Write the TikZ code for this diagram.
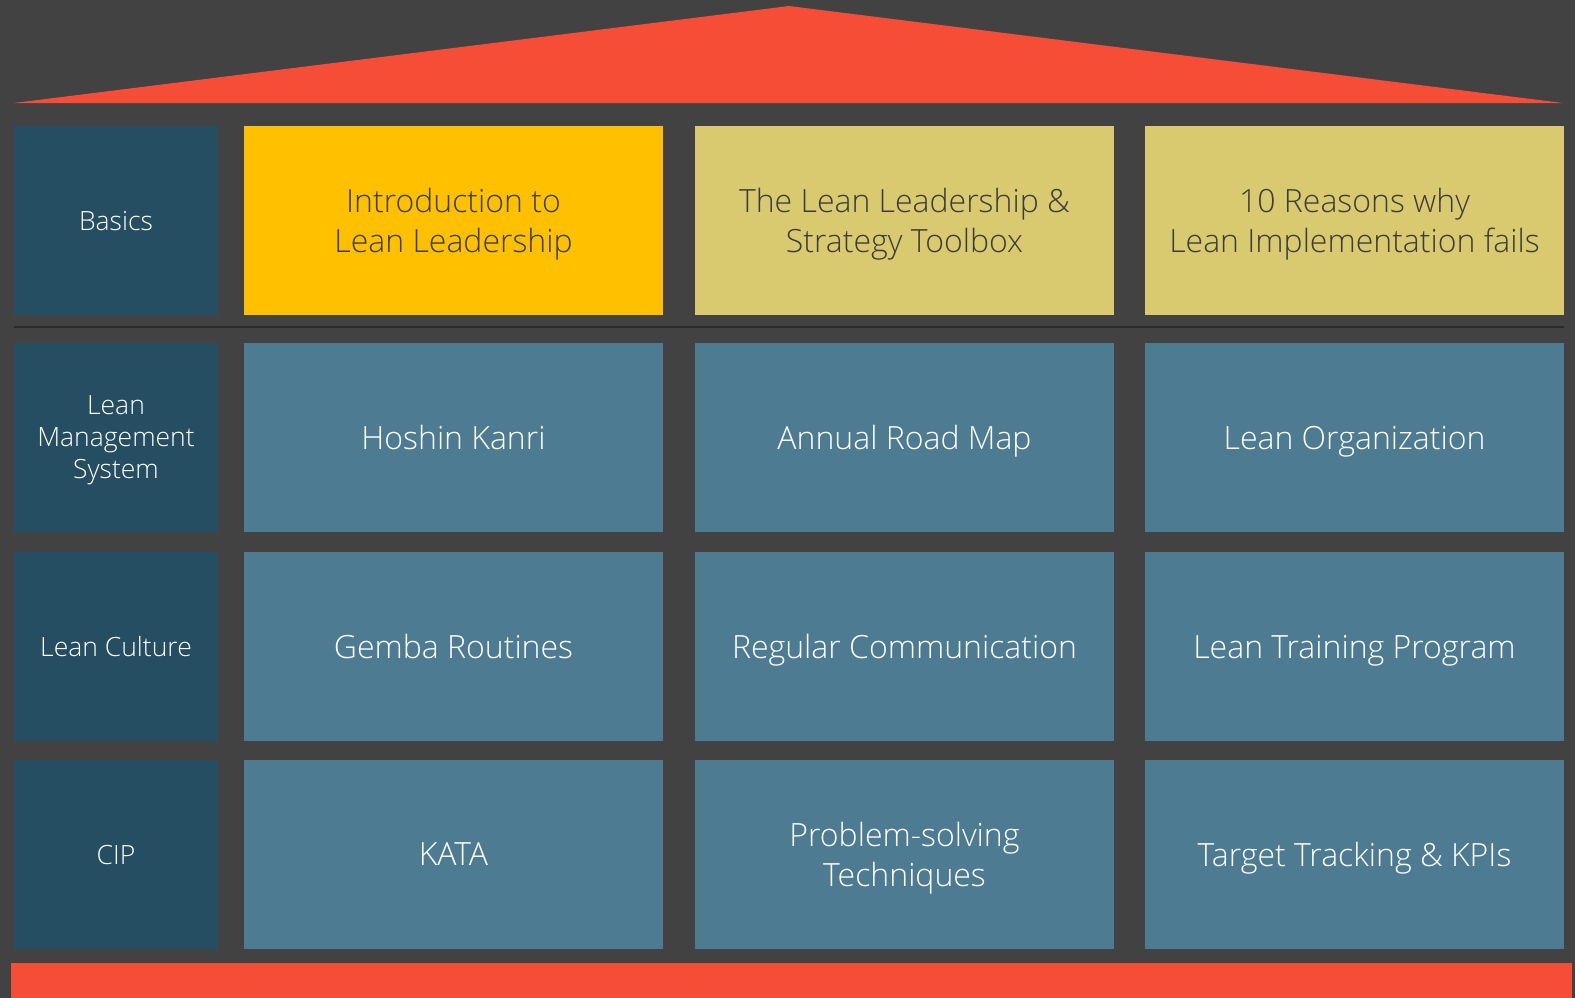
\documentclass[tikz,border=0pt]{standalone}
\usepackage{fontspec}
\setmainfont{Open Sans Light}
\usetikzlibrary{positioning}

\definecolor{bgdark}{HTML}{424242}
\definecolor{roofred}{HTML}{F64E36}
\definecolor{rowhead}{HTML}{254E63}
\definecolor{tile}{HTML}{4D7B91}
\definecolor{tileyellow}{HTML}{FFC000}
\definecolor{tilekhaki}{HTML}{D9CA70}
\definecolor{seam}{HTML}{2A2A2A}
\definecolor{darktext}{HTML}{3C3C3C}

\begin{document}
\begin{tikzpicture}[x=1pt, y=-1pt,
    head/.style={fill=rowhead, text=white, minimum width=204pt, minimum height=189pt,
                 inner sep=0pt, text depth=0pt, align=center, font=\fontsize{26.5}{32}\selectfont},
    topic/.style={fill=tile, text=white, minimum width=419pt, minimum height=189pt,
                  inner sep=0pt, text depth=0pt, align=center, font=\fontsize{32}{40}\selectfont},
    basic/.style={topic, text=darktext}]
    % Background and roof
    \fill[bgdark] (0,0) rectangle (1575,998);
    \useasboundingbox (0,0) rectangle (1575,998);
    \fill[roofred] (14,103) -- (789,6) -- (1563,103) -- cycle;
    \fill[roofred] (11,963) rectangle (1572,998);
    % Row headers
    \node[head] (basics)  at (116,220.5) {Basics};
    \node[head] (lms)     at (116,437.5) {Lean\\Management\\System};
    \node[head] (culture) at (116,646.5) {Lean Culture};
    \node[head] (cip)     at (116,854.5) {CIP};
    % Basics row
    \node[basic, fill=tileyellow] (intro)   at (453.5,220.5)  {Introduction to\\Lean Leadership};
    \node[basic, fill=tilekhaki]  (toolbox) at (904.5,220.5)  {The Lean Leadership \&\\Strategy Toolbox};
    \node[basic, fill=tilekhaki]  (reasons) at (1354.5,220.5) {10 Reasons why\\Lean Implementation fails};
    \draw[seam, line width=2pt] (basics.west |- 0,327) -- (reasons.east |- 0,327);
    % Management system
    \node[topic] (hoshin)  at (453.5,437.5)  {Hoshin Kanri};
    \node[topic] (roadmap) at (904.5,437.5)  {Annual Road Map};
    \node[topic] (leanorg) at (1354.5,437.5) {Lean Organization};
    % Culture
    \node[topic] (gemba)    at (453.5,646.5)  {Gemba Routines};
    \node[topic] (comm)     at (904.5,646.5)  {Regular Communication};
    \node[topic] (training) at (1354.5,646.5) {Lean Training Program};
    % CIP
    \node[topic] (kata)    at (453.5,854.5)  {KATA};
    \node[topic] (problem) at (904.5,854.5)  {Problem-solving\\Techniques};
    \node[topic] (kpis)    at (1354.5,854.5) {Target Tracking \& KPIs};
\end{tikzpicture}
\end{document}
